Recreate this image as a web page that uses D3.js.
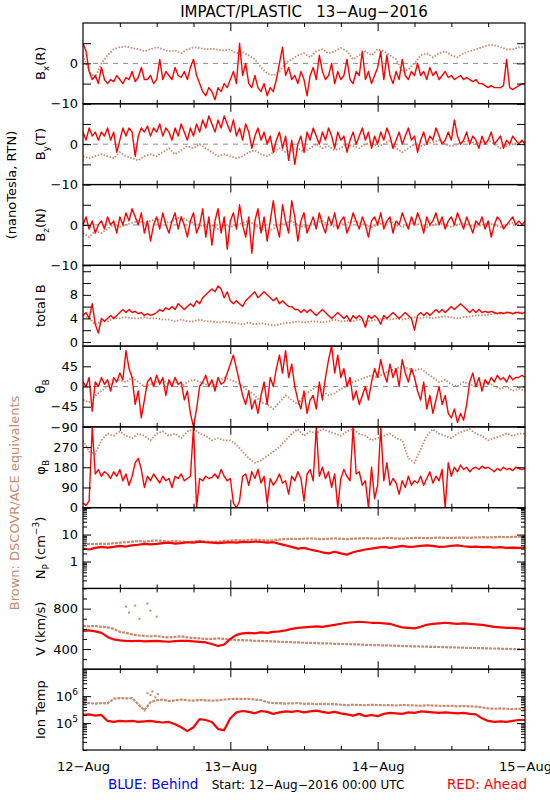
<!DOCTYPE html>
<html><head><meta charset="utf-8">
<script src="https://cdn.jsdelivr.net/npm/d3@7"></script>
<style>body{margin:0;background:#fff;} text{font-family:"DejaVu Sans",sans-serif;}</style>
</head><body><svg id="c" width="550" height="800"></svg>
<script>
// ---------- DATA (12-Aug-2016 00:00 UTC .. 15-Aug-2016 00:00 UTC) ----------
const dayLabels = ["12-Aug","13-Aug","14-Aug","15-Aug"];
// Ahead (red) magnetic field, 30-min samples
const bxRed = [5,3,-2,-4,-3,-5,-1,-4,-5,-4,-4.5,-3,-4,-5,-3.5,-4,-2,-4.5,-3.5,-1,-4,-4,-3,-5,-4,1,-4,-2,-3,-4,-1,-3,-3.5,-2,-4,-1,1,-3,-5,-7,-8,-6,-7,-9,-6,-7,-5,-6,-4,-2,-5,5,-3,0,-5,-6,-3,-6,-7,-5,-8,-6,-7,-4,0,4,-3,-1,-4,-3,-5,-2,-4,-8,-3,-1,-4,2,-2,-4,-3,0,-5,-2,-4,-3,1,-4,-5,-2,-3,3,-4,-2,-5,-3,-1,3,-4,2,-3,-5,-2,-4,1,-3,-4,-2,-3,0,-3,-2,-4,-1,-3,-2,-4,-3,-2,-3.5,-3,-4,-3.5,-3,-4,-3.5,-4,-4.5,-4,-5,-5,-5.5,-6,-5.5,-6,-6,-6,-5.5,1,-6,-6.5,-6,-5.5,-5,-5];
const byRed = [3,1,4,2,3,1,3,2,4,1,3,-2,1,4,2,4,3,-3,2,4,3,4.5,2,4,3,5,2,4,3,1,4,2,5,3,1,4,2,5,3,6,4,7,5,3,6,4,7,5,3,6,2,4,1,5,3,-1,2,4,1,3,0,2,-2,1,3,-1,2,-4,1,-5,0,2,-2,3,1,4,2,0,3,1,4,2,-1,3,1,2,-2,1,3,0,2,4,1,3,-1,2,0,3,1,4,2,-1,1,3,0,2,4,1,2,-2,1,3,0,2,1,4,2,0,1,3,1,6,2,0,1,3,0,2,1,-1,2,0,1,3,0,1,2,-1,1,0,2,1,0,1,0];
const bzRed = [0,2,-1,1,-2,0,1,-1,2,0,1,-2,2,0,3,1,4,2,0,3,-2,1,-4,0,2,-1,3,0,-2,1,3,-1,2,0,-3,1,3,-2,0,4,-3,2,-5,1,4,-2,2,-6,1,3,-1,5,0,-3,2,-7,1,4,-2,2,-4,1,6,0,-3,5,1,-2,6,2,-4,1,3,-2,0,2,-1,3,0,-2,2,0,3,-1,1,2,-2,0,3,1,-1,2,0,-3,1,2,0,3,-1,1,2,-2,1,0,3,1,-1,2,0,3,1,-2,2,0,1,3,0,2,-1,1,2,0,3,1,-1,2,0,-2,1,0,2,-1,1,-3,0,2,1,-1,0,1,2,0,1,0,1];
const btRed = [4.5,5,4,6.5,3,1.5,4,3.5,4,4.5,4,4.5,5,5.5,5,5.5,5,5.2,4.8,5,4.5,4.8,4.5,4.7,5,5.5,5.2,5.8,5.5,6,5.5,6.5,6,5.5,6,6.5,6,7,6.5,7.5,8,8.5,9,8.5,9.5,9,7.5,8.5,7,6.5,7,6.5,6,7,7.5,8,8.5,7.5,8,8.5,8,7.5,7,7.5,6.5,7,6.5,6,6,5.5,5.5,5,5.5,5,5.5,5,4.5,5,5.5,5,4.5,4,4.5,5,4.5,4,4.5,3.5,4.5,4,4.5,4,2.5,4.5,4,4.5,4,3,4.5,4,4.5,5,4.5,4,4.5,5,4.5,4,2,4.5,5,4.5,5,4.5,5,5.5,5,5.5,5,5.5,6,5.5,6,6.5,6,5.5,5,5.5,5,5.5,5,5.2,5,5.2,5,4.8,5,4.8,5,5,4.8,5,5,4.8,5];
const thRed = [10,0,20,-55,10,0,20,5,15,-10,20,10,30,15,80,40,20,-40,-10,-70,-30,10,20,0,25,5,20,-20,15,0,20,5,10,-30,-10,-60,-90,-50,0,10,25,0,15,-10,20,5,10,30,50,70,40,10,-20,-40,-10,-50,-30,-60,-20,10,-40,20,0,40,70,30,80,20,50,0,-30,-50,-10,-60,-30,-20,-50,10,-30,20,60,90,30,70,20,40,0,20,-30,-10,-40,-20,0,-30,10,40,20,60,30,10,50,20,40,0,60,30,10,40,20,-10,-30,10,-50,-20,-60,-30,0,-40,-20,-60,-70,-50,-80,-60,-75,-40,10,30,0,20,-10,15,5,20,10,25,15,20,10,25,15,20,20,25,20];
const phRed = [20,10,30,360,150,170,140,160,150,130,160,140,170,120,150,100,140,200,220,170,90,140,120,150,130,110,140,120,130,90,140,130,150,120,130,140,360,0,130,120,140,130,135,150,130,170,140,120,130,20,0,30,140,150,100,160,130,170,110,140,20,130,100,120,150,110,120,60,140,120,160,130,30,150,170,120,360,140,180,130,160,90,150,0,130,170,140,120,360,150,160,100,120,0,180,40,100,360,120,200,100,130,110,60,120,90,140,100,120,110,140,100,130,160,110,140,120,170,0,200,140,180,160,190,170,180,160,175,180,170,185,175,180,170,160,175,165,180,170,175,165,180,175,170,175];
// Ahead (red) plasma, hourly samples
const npRed = [3,2.8,3.2,3.5,3.3,3.5,3.8,3.6,4,4.2,4.5,4.3,4.5,4.8,5,4.6,4.8,5.2,5,5.5,5.2,5,4.8,5,5.2,5,5.4,5.2,5.5,5.3,5,5.2,4.5,4,3.5,3,3.2,2.8,2.5,2.2,2,2.3,2,1.8,2.2,2.5,2.8,3,3.3,3.5,3.2,3.5,3.8,3.5,3.6,3.8,4,3.8,3.5,3.6,3.8,4,3.7,3.5,3.6,3.4,3.5,3.3,3.4,3.2,3.3,3.2,3.3];
const vRed = [580,585,575,560,520,495,485,480,478,482,475,478,480,476,472,478,482,480,476,470,465,450,430,445,500,540,555,560,555,565,560,570,575,585,600,610,615,620,625,620,630,640,650,660,665,670,665,660,660,655,650,630,615,610,605,620,640,650,655,660,655,650,655,650,645,640,630,620,615,610,610,605,600];
const tRed = [2e5,2.1e5,1.9e5,2e5,1.2e5,1.1e5,1.2e5,1.15e5,1.2e5,1.1e5,1.15e5,1.2e5,1.1e5,1.05e5,1.1e5,9e4,7e4,5e4,7e4,1.4e5,1.3e5,1.1e5,6e4,5.5e4,1.5e5,2.5e5,2.8e5,2.6e5,2.3e5,2.8e5,2.6e5,2.2e5,2.5e5,2.7e5,2.6e5,2.8e5,2.5e5,2.7e5,2.9e5,2.6e5,2.4e5,2.6e5,2.3e5,2.1e5,1.9e5,2.2e5,1.8e5,2e5,1.8e5,2.2e5,2.4e5,2.3e5,2.2e5,2.5e5,2.4e5,2.7e5,2.6e5,2.5e5,2.4e5,2.5e5,2.4e5,2.3e5,2.4e5,2.2e5,2.1e5,1.5e5,1.2e5,1.1e5,1.15e5,1.1e5,1.2e5,1.3e5,1.3e5];
// DSCOVR/ACE (brown), hourly samples
const bxBrown = [2,-2,-3.5,0,2,3.5,4,4.2,3.8,3.5,3,3.5,4,3.5,3,3.2,2.5,3.5,4,3.8,3.5,3.6,3.4,3.2,3.5,2.5,2.8,2,1,-1,-2.5,-3,-2,0,1,2,2.5,1.5,3,3.5,2.5,3,3.8,3,1,2,3,2,3.5,3,2,1,-2,-1.5,0,2,2.5,1.5,2.5,3,2,1.5,2.5,3,3.5,4,4.5,4.5,4,3.5,3.5,4,4];
const byBrown = [-3,-3.5,-3,-2.5,-3,-3.5,-2,-3,-3.5,-4,-3,-2.5,-3,-2,-1,-2.5,-1.5,-0.5,-1,0,-1,-2,-3,-2.5,-3,-3.5,-3,-2,-1.5,-2.5,-3,-2,-1,-2,-1.5,-1,-2,-1,0,-1,-0.5,-1.5,-1,0,-0.5,-1,0,0.5,-0.5,0,1,-1,-2,-1,0,-0.5,0,0.5,1,0,-0.5,0,0.5,1,0,0.5,1,0,-1,-0.5,0,0.5,0.5];
const bzBrown = [-2,-3,-1.5,-2,-1,0,-0.5,0,0.5,1,0.5,1,1.5,1,0.5,1.5,2,1,0.5,0,-0.5,0,-1,0,-0.5,0,0.5,1,0,-1,-1.5,-1,0,0.5,1,0,-0.5,0,0.5,1,0,-0.5,0,0.5,1,0.5,0,-0.5,0,0.5,1,0,-0.5,0,0.5,0,-0.5,0,0.5,0,-0.5,0,0.5,0,-0.5,0,0.5,0,-0.5,0,0.5,0,0];
const btBrown = [4.5,4,3,3.5,3.5,4,4,4.2,4,4,4.2,4,4,3.8,3.8,3.5,3.8,3.5,3.5,3.8,3.5,3.5,3.3,3.5,3.3,3.2,3,3.3,3,3.2,3,2.8,3,3.2,3.3,3.5,3.3,3.5,3.5,3.3,3.5,3.8,3.5,3.6,3.5,3.8,3.5,3.6,3.8,4,3.8,4,3.8,4,4.2,4,4.2,4,4.2,4.3,4.2,4,4.2,4.3,4.5,4.5,4.6,4.8,4.8,5,4.8,5,5];
const thBrown = [-30,-35,-20,-10,0,10,15,10,20,10,0,5,10,15,5,10,0,10,15,10,5,0,10,20,15,10,0,-10,-20,-35,-40,-50,-35,-20,-30,-40,-20,-10,0,-10,-20,-15,-5,0,10,15,20,25,20,30,35,40,45,40,35,40,30,20,10,15,5,0,10,5,0,5,10,0,-5,0,-10,-5,-10];
const phBrown = [300,250,240,300,330,320,340,320,310,330,320,300,330,340,320,330,310,340,350,330,320,300,310,300,300,280,250,220,200,210,230,250,270,300,330,350,320,340,330,350,340,330,320,340,350,330,320,300,310,320,330,310,300,220,200,260,320,350,330,320,310,330,340,350,330,320,300,310,320,330,320,330,330];
const npBrown = [4.3,4.5,4.4,4.6,4.5,4.8,5,5.2,5.5,5.8,5.5,5.8,6,5.8,5.5,5.8,5.5,5.3,5.5,5.8,5.5,5.3,5.5,5.8,6,6.2,6,6.3,6.5,6.2,6,6.2,6.5,6.8,7,6.8,7,7.2,7,6.8,7,7.2,7,6.8,7,7.2,7.4,7.2,7,7.3,7.5,7.2,7,7.3,7.5,7.6,7.4,7.5,7.8,7.6,7.5,7.7,7.8,7.6,7.8,8,7.8,8,8.2,8,8.2,8.3,8.4];
const vBrown = [630,625,628,620,615,600,570,560,545,535,530,525,530,520,515,520,525,515,510,505,500,500,505,500,495,490,488,485,482,480,478,475,472,470,468,465,462,460,458,456,455,452,450,448,446,445,442,440,438,436,435,432,430,428,426,425,423,421,420,418,416,415,413,412,410,408,406,405,403,402,400,400,398];
const tBrown = [5.5e5,5.5e5,5.3e5,5.5e5,5.4e5,8e5,8.5e5,8.2e5,8.5e5,5e5,3e5,6e5,7e5,7.5e5,6.5e5,7e5,7.5e5,7e5,6.8e5,7.2e5,7e5,6.8e5,7e5,7.5e5,7.8e5,8e5,7.8e5,8e5,7.5e5,7.2e5,6e5,5.5e5,5.5e5,5.3e5,5.4e5,5.5e5,5.2e5,5.3e5,5e5,5.2e5,5e5,5.1e5,4.8e5,4.6e5,4.8e5,4.7e5,4.6e5,4.8e5,4.7e5,4.6e5,4.7e5,4.5e5,4.7e5,4.6e5,4.5e5,4.4e5,4.6e5,4.5e5,4.4e5,4.3e5,4.4e5,4.2e5,4.3e5,4.2e5,4.1e5,3.8e5,3.5e5,3.4e5,3.5e5,3.4e5,3.3e5,3.4e5,3.4e5];
// isolated brown points (hour, value)
const vBrownOutHour = [7,7.5,8.5,9.2,10.5,11,12];
const vBrownOutVal  = [820,760,830,700,850,780,720];
const tBrownOutHour = [10.5,11,11.3,11.8,12.2];
const tBrownOutVal  = [1.3e6,1.1e6,1.5e6,9e5,1.2e6];

// ---------- LAYOUT ----------
const L = 83, R = 525, T = 23, B = 750, NP = 9;
const PH = (B - T) / NP;
const RED = "#ff0000", BROWN = "#c98a6e";
const svg = d3.select("#c");
svg.append("rect").attr("width",550).attr("height",800).attr("fill","#fff");
const x = d3.scaleLinear().domain([0,72]).range([L,R]);

function logTicks(lo, hi){ const t=[]; for(let e=Math.floor(Math.log10(lo)); e<=Math.ceil(Math.log10(hi)); e++) for(let m=1;m<10;m++){const v=m*Math.pow(10,e); if(v>=lo&&v<=hi) t.push(v);} return t; }

const panels = [
 {red:bxRed, brown:bxBrown, log:false, dom:[-10,10], ticks:[-10,-5,0,5], labs:[-10,0], zero:true, lab:[["B",0],["x",1],["(R)",0]]},
 {red:byRed, brown:byBrown, log:false, dom:[-10,10], ticks:[-10,-5,0,5], labs:[-10,0], zero:true, lab:[["B",0],["y",1],["(T)",0]]},
 {red:bzRed, brown:bzBrown, log:false, dom:[-10,10], ticks:[-10,-5,0,5], labs:[-10,0], zero:true, lab:[["B",0],["z",1],["(N)",0]]},
 {red:btRed, brown:btBrown, log:false, dom:[-0.7,13], ticks:[0,2,4,6,8,10,12], labs:[0,4,8], zero:false, lab:[["total B",0]]},
 {red:thRed, brown:thBrown, log:false, dom:[-90,90], ticks:[-90,-45,0,45], labs:[-90,-45,0,45], zero:true, lab:[["θ",0],["B",1]]},
 {red:phRed, brown:phBrown, log:false, dom:[0,360], ticks:[0,90,180,270], labs:[0,90,180,270], zero:false, lab:[["φ",0],["B",1]]},
 {red:npRed, brown:npBrown, log:true, dom:[0.1,100], ticks:[1,10], labs:[1,10], zero:false, thick:true, lab:[["N",0],["P",1],[" (cm",0],["−3",2],[")",0]]},
 {red:vRed, brown:vBrown, log:false, dom:[200,1000], ticks:[400,800], minor:[300,500,600,700,900], labs:[400,800], zero:false, thick:true, lab:[["V (km/s)",0]], outH:vBrownOutHour, outV:vBrownOutVal},
 {red:tRed, brown:tBrown, log:true, dom:[1e4,1e7], ticks:[1e5,1e6], labs:[1e5,1e6], zero:false, thick:true, exp:true, lab:[["Ion Temp",0]], outH:tBrownOutHour, outV:tBrownOutVal}
];

const defs = svg.append("defs");
panels.forEach((p,i)=>{
  const top = T + i*PH, bot = top + PH;
  const y = (p.log ? d3.scaleLog() : d3.scaleLinear()).domain(p.dom).range([bot, top]);
  const g = svg.append("g");
  defs.append("clipPath").attr("id","cp"+i).append("rect").attr("x",L).attr("y",top).attr("width",R-L).attr("height",PH);
  const plot = g.append("g").attr("clip-path","url(#cp"+i+")");
  if(p.zero){
    plot.append("line").attr("x1",L).attr("x2",R).attr("y1",y(0)).attr("y2",y(0))
      .attr("stroke","#8a8a8a").attr("stroke-width",1).attr("stroke-dasharray","5,5");
  }
  // brown series
  const nb = p.brown.length;
  const lineB = d3.line().x((d,k)=>x(k*72/(nb-1))).y(d=>y(d));
  plot.append("path").datum(p.brown).attr("d",lineB).attr("fill","none")
    .attr("stroke",BROWN).attr("stroke-width",p.thick?2.2:1.8).attr("stroke-dasharray",p.thick?"3,1":"1.5,1.6");
  if(p.outH){
    plot.selectAll(null).data(p.outH).enter().append("rect")
      .attr("x",(d)=>x(d)-1).attr("y",(d,k)=>y(p.outV[k])-1).attr("width",2).attr("height",2).attr("fill",BROWN);
  }
  // red series
  const nr = p.red.length;
  const lineR = d3.line().x((d,k)=>x(k*72/(nr-1))).y(d=>y(d));
  plot.append("path").datum(p.red).attr("d",lineR).attr("fill","none")
    .attr("stroke",RED).attr("stroke-width",p.thick?2.2:1.4).attr("stroke-linejoin","round");

  // y axes
  const fmt = d => p.labs.includes(d) ? (p.exp ? "10^"+Math.round(Math.log10(d)) : String(d).replace("-","−")) : "";
  const axL = g.append("g").attr("transform",`translate(${L},0)`)
    .call(d3.axisLeft(y).tickValues(p.ticks).tickSize(-8).tickSizeOuter(0).tickPadding(5).tickFormat(fmt));
  g.append("g").attr("transform",`translate(${R},0)`)
    .call(d3.axisRight(y).tickValues(p.ticks).tickSize(-8).tickSizeOuter(0).tickFormat(""));
  const minors = p.log ? logTicks(p.dom[0],p.dom[1]).filter(v=>!p.ticks.includes(v)) : (p.minor||[]);
  if(minors.length){
    g.append("g").attr("transform",`translate(${L},0)`).call(d3.axisLeft(y).tickValues(minors).tickSize(-4).tickSizeOuter(0).tickFormat(""));
    g.append("g").attr("transform",`translate(${R},0)`).call(d3.axisRight(y).tickValues(minors).tickSize(-4).tickSizeOuter(0).tickFormat(""));
  }
  // x ticks on top & bottom of each panel
  const sixH = [6,12,18,30,36,42,54,60,66];
  [[d3.axisBottom,bot],[d3.axisTop,top]].forEach(([af,yy])=>{
    g.append("g").attr("transform",`translate(0,${yy})`).call(af(x).tickValues(sixH).tickSize(-4).tickSizeOuter(0).tickFormat(""));
    g.append("g").attr("transform",`translate(0,${yy})`).call(af(x).tickValues([24,48]).tickSize(-8).tickSizeOuter(0).tickFormat(""));
  });
  g.selectAll(".domain").remove();
  g.selectAll(".tick line").attr("stroke","#000").attr("stroke-width",1);
  axL.selectAll("text").attr("font-size",13).attr("fill","#000").attr("font-family","DejaVu Sans");
  if(p.exp){
    axL.selectAll("text").each(function(d){
      const t=d3.select(this); const s=t.text(); if(!s) return;
      t.text(""); t.append("tspan").text("10");
      t.append("tspan").attr("dy",-6).attr("font-size",9).text(s.split("^")[1]);
    });
  }
  // frame
  g.append("rect").attr("x",L).attr("y",top).attr("width",R-L).attr("height",PH)
    .attr("fill","none").attr("stroke","#000").attr("stroke-width",1.2);
  // panel label
  const lt = g.append("text").attr("transform",`translate(45,${top+PH/2}) rotate(-90)`)
    .attr("text-anchor","middle").attr("font-size",13).attr("fill","#000");
  let shift = 0;
  p.lab.forEach(([s,kind])=>{
    const ts = lt.append("tspan").text(s);
    if(kind===1){ ts.attr("font-size",9).attr("dy",4-shift); shift=4; }
    else if(kind===2){ ts.attr("font-size",9).attr("dy",-6-shift); shift=-6; }
    else { if(shift!==0){ ts.attr("dy",-shift); shift=0; } }
  });
});

// bottom x labels
svg.append("g").attr("transform",`translate(0,${B})`)
  .call(d3.axisBottom(x).tickValues([0,24,48,72]).tickSize(0).tickPadding(12).tickFormat((d,i)=>dayLabels[i].replace("-","−")))
  .call(g=>g.select(".domain").remove())
  .selectAll("text").attr("font-size",13).attr("fill","#000").attr("font-family","DejaVu Sans");

// titles and notes
svg.append("text").attr("x",(L+R)/2).attr("y",17).attr("text-anchor","middle").attr("font-size",15)
  .attr("xml:space","preserve").style("white-space","pre").text("IMPACT/PLASTIC   13−Aug−2016");
svg.append("text").attr("transform","translate(16,185) rotate(-90)").attr("text-anchor","middle").attr("font-size",13)
  .text("(nanoTesla, RTN)");
svg.append("text").attr("transform","translate(19,503) rotate(-90)").attr("text-anchor","middle").attr("font-size",13)
  .attr("fill",BROWN).text("Brown: DSCOVR/ACE equivalents");
svg.append("text").attr("x",L+25).attr("y",789).attr("font-size",13.5).attr("fill","#0000ff").text("BLUE: Behind");
svg.append("text").attr("x",(L+R)/2+4).attr("y",789).attr("text-anchor","middle").attr("font-size",12).attr("fill","#000")
  .text("Start: 12−Aug−2016 00:00 UTC");
svg.append("text").attr("x",R+2).attr("y",789).attr("text-anchor","end").attr("font-size",13.5).attr("fill","#ff0000").text("RED: Ahead");
</script></body></html>
